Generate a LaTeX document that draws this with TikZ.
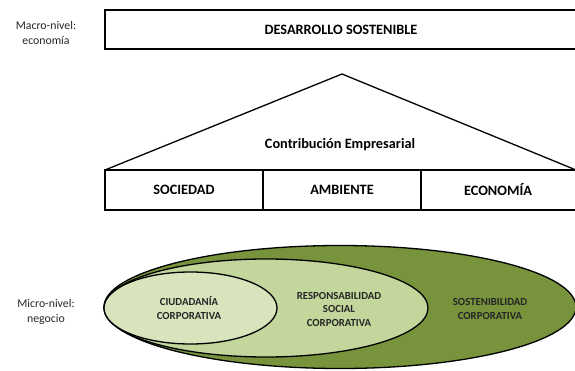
\documentclass[tikz,border=0pt]{standalone}
\usepackage{fontspec}
\setmainfont{Carlito}
\usetikzlibrary{shapes.geometric}
\definecolor{gOuter}{HTML}{77933C}
\definecolor{gMid}{HTML}{C3D69B}
\definecolor{gIn}{HTML}{D7E4BC}
\begin{document}
\begin{tikzpicture}[x=1pt,y=-1pt,
  side/.style={font=\fontsize{11.8}{15.5}\selectfont, align=center, text=black!85},
  boxtxt/.style={font=\fontsize{14.3}{16}\selectfont\bfseries},
  elltxt/.style={font=\fontsize{10.8}{13.5}\selectfont\bfseries, align=center, text=black!85},
  thick line/.style={line width=1.6pt},
  mid line/.style={line width=1.3pt}]
\useasboundingbox (0,0) rectangle (575,371);
% top box
\draw[thick line] (105,10) rectangle (580,49);
\node[boxtxt] (ds) at (341,30) {DESARROLLO SOSTENIBLE};
\node[side] (macro) at (46,33) {Macro-nivel:\\economía};
% triangle
\coordinate (apex) at (342,74);
\coordinate (bl) at (105,170);
\coordinate (br) at (576,170);
\draw[mid line, line join=miter] (bl) -- (apex) -- (br);
\node[boxtxt] (ce) at (340,145) {Contribución Empresarial};
% row
\draw[thick line] (580,170) -- (105,170) -- (105,210) -- (580,210);
\draw[mid line] (263,170) -- (263,210);
\draw[mid line] (421,170) -- (421,210);
\node[boxtxt] (soc) at (184,190) {SOCIEDAD};
\node[boxtxt] (amb) at (342,190) {AMBIENTE};
\node[boxtxt] (eco) at (498,190) {ECONOMÍA};
% ellipses
\draw[mid line, fill=gOuter] (340,307) ellipse [x radius=236, y radius=61.5];
\draw[mid line, fill=gMid] (266,308) ellipse [x radius=162, y radius=49];
\draw[mid line, fill=gIn] (190.5,308) ellipse [x radius=86.5, y radius=36];
\node[elltxt] (cc) at (189,308) {CIUDADANÍA\\CORPORATIVA};
\node[elltxt] (rsc) at (339,309) {RESPONSABILIDAD\\SOCIAL\\CORPORATIVA};
\node[elltxt] (sc) at (490,309) {SOSTENIBILIDAD\\CORPORATIVA};
\node[side] (micro) at (46,312) {Micro-nivel:\\negocio};
\end{tikzpicture}
\end{document}
